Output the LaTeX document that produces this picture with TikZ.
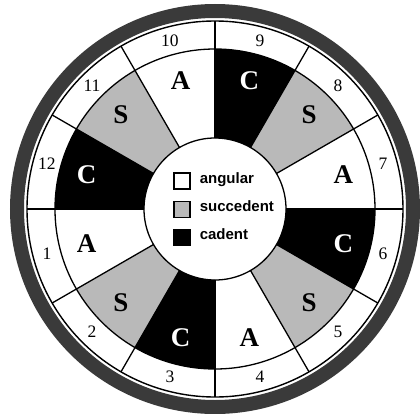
\documentclass[tikz,border=0pt]{standalone}
\usepackage{fontspec}
\setmainfont{Liberation Serif}
\newfontfamily\legendfont{Liberation Sans}
\usetikzlibrary{positioning}
\definecolor{rimgray}{RGB}{58,58,58}
\definecolor{stipple}{RGB}{185,185,185}

\begin{document}
\begin{tikzpicture}[x=1pt, y=1pt, every node/.style={inner sep=0pt},
    fillA/.style={fill=white}, fillS/.style={fill=stipple}, fillC/.style={fill=black},
    letterA/.style={text=black}, letterS/.style={text=black}, letterC/.style={text=white},
    house/.style={font=\bfseries\fontsize{27}{27}\selectfont},
    housenum/.style={font=\fontsize{17.5}{17.5}\selectfont},
    key/.style={draw, line width=1.2pt, minimum size=16pt},
    keytext/.style={font=\legendfont\bfseries\fontsize{15}{15}\selectfont}]
        \useasboundingbox (-215,-204) rectangle (205,209);
        \draw[rimgray, line width=14pt] (0,0) circle (198pt);
        \draw[line width=1.4pt, fill=white] (0,0) circle (188pt);
        \foreach \h/\t in {1/A,2/S,3/C,4/A,5/S,6/C,7/A,8/S,9/C,10/A,11/S,12/C} {
            \pgfmathsetmacro{\a}{30*\h-195}
            \fill[fill\t] (\a-15:71pt) arc (\a-15:\a+15:71pt) -- (\a+15:160pt) arc (\a+15:\a-15:160pt) -- cycle;
            \node (h\h) [house, letter\t] at (\a:133pt) {\t};
            \node (n\h) [housenum] at (\a:174pt) {\h};
        }
        \foreach \a in {0,30,...,330}
            \draw[line width=1.3pt] (\a:71pt) -- (\a:188pt);
        \draw[line width=1.3pt] (0,0) circle (160pt) (0,0) circle (71pt);

        \node (kA) [key, fill=white] at (-33,28) {};
        \node (kS) [key, fill=stipple, below=11pt of kA] {};
        \node (kC) [key, fill=black, below=11pt of kS] {};
        \node (tA) [keytext, right=9pt of kA, anchor=mid west] {angular};
        \node (tS) [keytext, right=9pt of kS, anchor=mid west] {succedent};
        \node (tC) [keytext, right=9pt of kC, anchor=mid west] {cadent};
    \end{tikzpicture}
\end{document}
